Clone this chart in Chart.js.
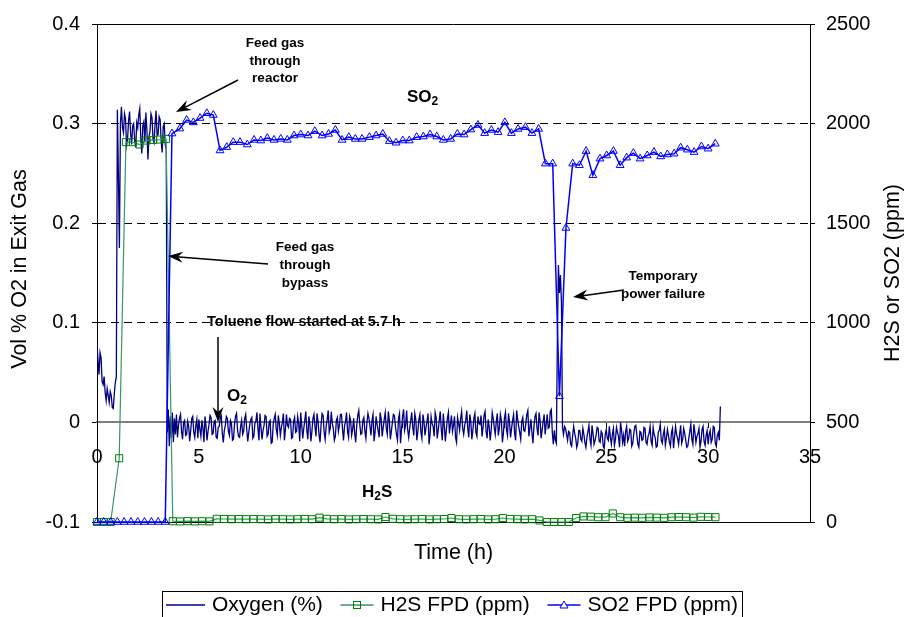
<!DOCTYPE html>
<html>
<head>
<meta charset="utf-8">
<script src="https://cdn.jsdelivr.net/npm/chart.js@4.4.1/dist/chart.umd.min.js"></script>
<style>
  html, body { margin: 0; padding: 0; background: #fff; }
  #wrap { width: 907px; height: 617px; position: relative; overflow: hidden; }
</style>
</head>
<body>
<div id="wrap"><canvas id="chart" width="907" height="617"></canvas></div>
<script>
// ======================
// DATA
// ======================

// oxygen logger: one reading every 0.05 h starting at 0 h
const o2Start = 0;
const o2Step = 0.05;
const o2Values = [
  // 0 h
  0.079, 0.062, 0.048, 0.070, 0.065, 0.041, 0.038, 0.046, 0.030, 0.022,
  0.034, 0.027, 0.020, 0.031, 0.027, 0.015, 0.014, 0.029, 0.040, 0.046,
  // 1 h
  0.314, 0.250, 0.175, 0.300, 0.317, 0.296, 0.291, 0.310, 0.305, 0.278,
  0.284, 0.303, 0.312, 0.290, 0.279, 0.298, 0.300, 0.283, 0.276, 0.301,
  // 2 h
  0.296, 0.309, 0.315, 0.285, 0.270, 0.298, 0.302, 0.281, 0.311, 0.293,
  0.264, 0.287, 0.292, 0.310, 0.306, 0.284, 0.281, 0.299, 0.313, 0.288,
  // 3 h
  0.289, 0.307, 0.304, 0.282, 0.271, 0.297, 0.300, 0.279, 0.274, -0.010,
  0.013, -0.024, 0.006, -0.016, 0.010, -0.020, 0.004, -0.012, 0.008, -0.015,
  // 4 h
  -0.003, 0.004, 0.008, -0.009, -0.017, 0.000, 0.002, -0.013, -0.012, 0.001,
  -0.004, -0.019, -0.008, 0.004, 0.006, -0.010, -0.015, -0.003, 0.003, -0.016,
  // 5 h
  0.003, -0.007, -0.014, 0.002, -0.006, -0.020, 0.006, -0.004, -0.018, -0.009,
  -0.002, 0.007, 0.005, -0.012, -0.011, 0.001, 0.002, -0.015, -0.016, -0.005,
  // 6 h
  -0.004, 0.005, 0.007, -0.011, -0.020, -0.008, -0.003, 0.006, 0.004, -0.009,
  -0.013, 0.002, -0.001, -0.018, -0.017, -0.002, 0.006, 0.009, -0.008, -0.014,
  // 7 h
  -0.015, -0.004, 0.002, -0.012, -0.009, 0.004, 0.008, -0.007, -0.019, -0.010,
  -0.002, 0.003, 0.005, -0.016, -0.014, -0.001, 0.001, 0.010, -0.006, -0.018,
  // 8 h
  0.009, -0.005, -0.017, -0.008, -0.003, 0.007, 0.006, -0.014, -0.012, 0.000,
  0.002, -0.021, -0.020, -0.002, 0.004, 0.008, -0.007, -0.013, 0.007, -0.001,
  // 9 h
  -0.013, -0.005, 0.000, 0.009, -0.018, -0.007, 0.008, -0.003, -0.005, 0.004,
  0.003, -0.016, -0.015, 0.001, 0.005, -0.010, -0.009, 0.006, -0.001, -0.019,
  // 10 h
  0.010, -0.003, -0.016, -0.006, 0.002, 0.011, -0.008, -0.017, 0.006, -0.002,
  -0.019, -0.009, 0.004, 0.008, -0.004, -0.014, 0.009, 0.001, -0.012, -0.020,
  // 11 h
  -0.002, 0.009, 0.007, -0.010, -0.017, -0.004, 0.003, 0.012, -0.010, -0.006,
  0.011, -0.001, -0.006, -0.018, -0.014, 0.002, 0.005, -0.009, -0.003, 0.008,
  // 12 h
  0.008, -0.006, -0.018, -0.004, 0.001, 0.010, -0.009, -0.015, 0.006, 0.002,
  -0.013, -0.007, 0.004, -0.011, -0.020, -0.003, 0.007, 0.012, -0.002, -0.012,
  // 13 h
  -0.011, 0.002, 0.005, -0.009, -0.016, 0.000, 0.009, 0.004, -0.004, -0.013,
  0.002, 0.008, -0.019, -0.010, 0.006, -0.002, -0.008, -0.015, 0.010, 0.003,
  // 14 h
  -0.014, -0.005, 0.003, 0.010, -0.006, -0.012, 0.011, 0.002, -0.017, -0.009,
  0.000, 0.008, 0.007, -0.004, -0.012, -0.018, 0.004, 0.009, -0.021, -0.007,
  // 15 h
  0.006, 0.013, -0.008, -0.003, 0.012, -0.007, -0.015, -0.006, 0.002, 0.010,
  -0.005, -0.013, 0.009, 0.003, -0.018, -0.009, 0.003, 0.008, -0.010, -0.016,
  // 16 h
  0.008, 0.001, -0.013, -0.005, 0.001, 0.009, -0.022, -0.012, 0.006, -0.001,
  -0.004, -0.014, 0.010, 0.005, -0.016, -0.008, 0.002, 0.011, -0.007, -0.018,
  // 17 h
  0.009, -0.004, -0.019, -0.007, 0.004, 0.010, -0.011, -0.002, 0.007, -0.009,
  -0.003, 0.006, -0.015, -0.020, 0.005, -0.001, -0.008, 0.004, 0.011, -0.006,
  // 18 h
  -0.012, -0.003, 0.002, 0.012, -0.006, -0.015, 0.008, 0.001, -0.017, -0.008,
  0.004, 0.009, -0.010, -0.014, 0.006, -0.001, -0.002, 0.007, -0.014, -0.005,
  // 19 h
  0.007, 0.011, -0.009, -0.016, 0.003, -0.004, -0.018, -0.008, 0.010, 0.004,
  -0.005, -0.012, 0.001, 0.009, -0.013, -0.006, 0.008, 0.002, -0.020, -0.011,
  // 20 h
  0.004, 0.010, -0.007, -0.013, 0.009, 0.000, -0.015, -0.006, 0.002, 0.008,
  -0.011, -0.018, 0.012, 0.003, -0.004, -0.010, -0.017, 0.001, 0.005, -0.008,
  // 21 h
  -0.009, -0.001, 0.008, 0.012, -0.014, -0.006, 0.003, -0.010, -0.021, -0.004,
  0.006, 0.009, -0.006, -0.013, 0.010, 0.002, -0.016, -0.008, 0.001, 0.008,
  // 22 h (power failure)
  -0.012, -0.002, 0.008, -0.006, -0.005, 0.011, 0.013, -0.010, -0.022, -0.008,
  -0.018, -0.021, 0.085, 0.158, 0.130, 0.148, 0.120, -0.005, -0.012, -0.004,
  // 23 h
  -0.006, -0.012, -0.018, -0.009, -0.010, -0.022, -0.024, -0.013, -0.004, -0.011,
  -0.016, -0.025, -0.021, -0.008, -0.008, -0.017, -0.019, -0.006, -0.012, -0.020,
  // 24 h
  -0.025, -0.015, -0.009, -0.003, -0.017, -0.023, -0.003, -0.011, -0.022, -0.018,
  -0.013, -0.005, -0.006, -0.019, -0.020, -0.009, -0.011, -0.024, -0.026, -0.012,
  // 25 h
  -0.007, -0.016, -0.018, -0.004, -0.015, -0.022, -0.012, -0.006, -0.023, -0.017,
  -0.005, -0.010, -0.014, -0.025, 0.000, -0.008, -0.020, -0.013, -0.024, -0.009,
  // 26 h
  -0.004, -0.019, -0.016, -0.007, -0.008, -0.024, -0.021, -0.011, -0.004, -0.003,
  -0.013, -0.022, -0.025, -0.009, -0.010, -0.018, -0.017, -0.005, -0.006, -0.020,
  // 27 h
  -0.022, -0.014, -0.011, -0.004, -0.019, -0.023, -0.005, -0.012, -0.015, -0.025,
  -0.024, -0.010, -0.008, -0.002, -0.018, -0.021, -0.012, -0.007, -0.023, -0.016,
  // 28 h
  -0.007, -0.013, -0.020, -0.024, -0.010, -0.006, -0.026, -0.015, -0.004, -0.012,
  -0.016, -0.022, -0.012, -0.003, -0.021, -0.017, -0.006, -0.011, -0.018, -0.025,
  // 29 h
  -0.024, -0.016, -0.009, -0.002, -0.017, -0.022, -0.002, -0.010, -0.020, -0.014,
  -0.011, -0.006, -0.025, -0.019, -0.007, -0.004, -0.019, -0.023, -0.013, -0.008,
  // 30 h
  -0.022, -0.012, -0.008, -0.020, -0.017, -0.004, -0.005, -0.021, -0.024, -0.013,
  -0.010, -0.018, 0.016
];

const h2sTime = [
  0, 0.33, 0.67, 1.09, 1.42, 1.76, 2.09, 2.43, 2.76, 3.09, 3.39,
  3.72, 4.08, 4.44, 4.80, 5.16, 5.52, 5.88, 6.24, 6.60, 6.96,
  7.32, 7.68, 8.04, 8.40, 8.76, 9.12, 9.48, 9.84, 10.20, 10.56,
  10.92, 11.28, 11.64, 12.00, 12.36, 12.72, 13.08, 13.44, 13.80, 14.16,
  14.52, 14.88, 15.24, 15.60, 15.96, 16.32, 16.68, 17.04, 17.40, 17.76,
  18.12, 18.48, 18.84, 19.20, 19.56, 19.92, 20.28, 20.64, 21.00, 21.36,
  21.72, 22.08, 22.44, 22.80, 23.16, 23.52, 23.88, 24.24, 24.60, 24.96,
  25.32, 25.68, 26.04, 26.40, 26.76, 27.12, 27.48, 27.84, 28.20, 28.56,
  28.92, 29.28, 29.64, 30.00, 30.36
];
const h2sPpm = [
  0, 0, 0, 320, 1907, 1907, 1895, 1915, 1918, 1920, 1923,
  4, 3, 4, 3, 4, 3, 16, 15, 14, 15,
  14, 15, 14, 13, 15, 14, 13, 14, 15, 14,
  22, 16, 14, 15, 13, 14, 15, 14, 13, 25,
  16, 14, 13, 14, 15, 13, 14, 15, 20, 14,
  13, 14, 15, 13, 14, 20, 15, 14, 13, 14,
  8, 0, 0, 0, 0, 20, 28, 27, 24, 24,
  43, 24, 21, 22, 21, 23, 22, 21, 24, 25,
  24, 22, 26, 25, 24
];

const so2Time = [
  0, 0.33, 0.67, 1.0, 1.33, 1.67, 2.0, 2.33, 2.67, 3.0, 3.35,
  3.68, 4.07, 4.40, 4.73, 5.06, 5.39, 5.71,
  6.04, 6.37, 6.69, 7.02, 7.38, 7.71, 8.04, 8.36, 8.69, 9.02,
  9.34, 9.67, 10.0, 10.36, 10.69, 11.05, 11.37, 11.70, 12.03, 12.36,
  12.68, 13.01, 13.37, 13.70, 14.03, 14.35, 14.68, 15.01, 15.33, 15.69,
  16.02, 16.35, 16.68, 17.0, 17.36, 17.69, 18.02, 18.35, 18.70, 19.03,
  19.36, 19.69, 20.02, 20.34, 20.67, 21.03, 21.35, 21.68, 22.01, 22.37,
  22.70, 23.02, 23.35, 23.68, 24.01, 24.34, 24.69, 25.02, 25.35, 25.68,
  26.0, 26.33, 26.66, 27.01, 27.34, 27.67, 28.0, 28.33, 28.65, 28.98,
  29.31, 29.67, 30.0, 30.35
];
const so2Ppm = [
  0, 0, 0, 0, 0, 0, 0, 0, 0, 0, 0,
  1950, 1975, 2018, 2006, 2028, 2052, 2043,
  1865, 1882, 1907, 1907, 1895, 1918, 1915, 1927, 1918, 1923,
  1918, 1940, 1945, 1940, 1962, 1940, 1948, 1968, 1918, 1932,
  1923, 1923, 1932, 1940, 1948, 1912, 1904, 1915, 1915, 1932,
  1935, 1945, 1935, 1918, 1923, 1948, 1945, 1970, 1993, 1952,
  1968, 1957, 2006, 1952, 1973, 1982, 1952, 1973, 1799, 1799,
  631, 1476, 1799, 1791, 1862, 1741, 1824, 1840, 1862, 1791,
  1829, 1852, 1824, 1840, 1857, 1835, 1845, 1849, 1879, 1869,
  1857, 1885, 1874, 1899
];

const seriesNames = ["Oxygen (%)", "H2S FPD (ppm)", "SO2 FPD (ppm)"];

// ======================
// BUILD POINTS
// ======================
const FONT = "Arial, 'Liberation Sans', sans-serif";
const O2_COLOR = "#000080";
const H2S_LINE = "#339966";
const H2S_MARK = "#008000";
const SO2_COLOR = "#0000ff";

const o2Points = o2Values.map((v, i) => ({ x: o2Start + i * o2Step, y: v }));
const h2sPoints = h2sTime.map((t, i) => ({ x: t, y: h2sPpm[i] }));
const so2Points = so2Time.map((t, i) => ({ x: t, y: so2Ppm[i] }));

// ======================
// DRAW HELPERS
// ======================
function arrow(ctx, x1, y1, x2, y2) {
  const ang = Math.atan2(y2 - y1, x2 - x1);
  const len = 15, half = 5.5;
  ctx.beginPath();
  ctx.moveTo(x1, y1);
  ctx.lineTo(x2 - Math.cos(ang) * 8, y2 - Math.sin(ang) * 8);
  ctx.stroke();
  ctx.save();
  ctx.translate(x2, y2);
  ctx.rotate(ang);
  ctx.beginPath();
  ctx.moveTo(0, 0);
  ctx.lineTo(-len, -half);
  ctx.lineTo(-len + 5, 0);
  ctx.lineTo(-len, half);
  ctx.closePath();
  ctx.fill();
  ctx.restore();
}

function subText(ctx, parts, x, y, big, small) {
  // parts: [text, isSub]
  let cx = x;
  parts.forEach(p => {
    ctx.font = "bold " + (p[1] ? small : big) + "px " + FONT;
    ctx.fillText(p[0], cx, y + (p[1] ? 5 : 0));
    cx += ctx.measureText(p[0]).width;
  });
}

function drawLegend(ctx) {
  const left = 162, right = 742, top = 591, ly = 605;
  ctx.lineWidth = 1;
  ctx.strokeStyle = "#000";
  ctx.strokeRect(left + 0.5, top + 0.5, right - left, 40);
  ctx.font = "21px " + FONT;
  ctx.textAlign = "left";
  ctx.textBaseline = "middle";
  const lens = [39, 33, 33];
  const widths = seriesNames.map(s => ctx.measureText(s).width);
  const used = lens[0] + lens[1] + lens[2] + widths[0] + widths[1] + widths[2] + 3 * 7;
  const gap = (right - left - 8 - used) / 2;
  let x = left + 4;
  const styles = [
    { color: O2_COLOR, mark: null },
    { color: H2S_LINE, mark: "rect" },
    { color: SO2_COLOR, mark: "tri" }
  ];
  styles.forEach((st, i) => {
    const x2 = x + lens[i];
    const mx = (x + x2) / 2;
    ctx.lineWidth = 1.5;
    ctx.strokeStyle = st.color;
    ctx.beginPath(); ctx.moveTo(x, ly); ctx.lineTo(x2, ly); ctx.stroke();
    ctx.lineWidth = 1;
    if (st.mark === "rect") {
      ctx.strokeStyle = H2S_MARK;
      ctx.strokeRect(Math.round(mx) - 3.5, ly - 3.5, 7, 7);
    } else if (st.mark === "tri") {
      ctx.beginPath();
      ctx.moveTo(mx, ly - 4); ctx.lineTo(mx + 4, ly + 3); ctx.lineTo(mx - 4, ly + 3); ctx.closePath();
      ctx.fillStyle = "#fff"; ctx.fill(); ctx.stroke();
    }
    ctx.fillStyle = "#000";
    ctx.fillText(seriesNames[i], x2 + 7, ly);
    x = x2 + 7 + widths[i] + gap;
  });
}

const frame = {
  id: "frame",
  beforeDatasetsDraw(chart) {
    const { ctx, chartArea: a } = chart;
    ctx.save();
    ctx.strokeStyle = "#000";
    ctx.lineWidth = 1;
    ctx.beginPath();
    ctx.moveTo(a.left, Math.round(a.top) + 0.5);
    ctx.lineTo(a.right, Math.round(a.top) + 0.5);
    ctx.moveTo(a.left, Math.round(a.bottom) + 0.5);
    ctx.lineTo(a.right, Math.round(a.bottom) + 0.5);
    ctx.stroke();
    ctx.restore();
  },
  afterDraw(chart) {
    const { ctx, chartArea: a } = chart;
    const midY = (a.top + a.bottom) / 2;
    ctx.save();
    ctx.fillStyle = "#000";
    ctx.strokeStyle = "#000";

    // axis titles
    ctx.font = "21.5px " + FONT;
    ctx.textAlign = "center";
    ctx.textBaseline = "middle";
    ctx.fillText("Time (h)", (a.left + a.right) / 2, 553);
    ctx.save();
    ctx.translate(20, midY - 4);
    ctx.rotate(-Math.PI / 2);
    ctx.fillText("Vol % O2 in Exit Gas", 0, 0);
    ctx.restore();
    ctx.save();
    ctx.translate(893, midY);
    ctx.rotate(-Math.PI / 2);
    ctx.fillText("H2S or SO2 (ppm)", 0, 0);
    ctx.restore();

    // notes
    ctx.font = "bold 13.5px " + FONT;
    [["Feed gas", 43], ["through", 61], ["reactor", 78]].forEach(l => ctx.fillText(l[0], 275, l[1]));
    [["Feed gas", 247], ["through", 265], ["bypass", 283]].forEach(l => ctx.fillText(l[0], 305, l[1]));
    [["Temporary", 276], ["power failure", 294]].forEach(l => ctx.fillText(l[0], 663, l[1]));
    ctx.textAlign = "left";
    ctx.font = "bold 14.5px " + FONT;
    ctx.fillText("Toluene flow started at 5.7 h", 207, 322);

    subText(ctx, [["SO", false], ["2", true]], 407, 97, 17, 12);
    subText(ctx, [["O", false], ["2", true]], 227, 396, 17, 12);
    subText(ctx, [["H", false], ["2", true], ["S", false]], 362, 492, 17, 12);

    ctx.lineWidth = 1.5;
    arrow(ctx, 238, 80, 176, 112);
    arrow(ctx, 268, 264, 168, 256);
    arrow(ctx, 624, 290, 573, 297);
    arrow(ctx, 218, 337, 218, 422);

    drawLegend(ctx);
    ctx.restore();
  }
};

// ======================
// CHART
// ======================
new Chart(document.getElementById("chart"), {
  type: "line",
  data: {
    datasets: [
      {
        label: seriesNames[0], data: o2Points, yAxisID: "y", order: 2,
        borderColor: O2_COLOR, borderWidth: 1.3, pointRadius: 0, tension: 0
      },
      {
        label: seriesNames[1], data: h2sPoints, yAxisID: "y2", order: 1, clip: false,
        borderColor: H2S_LINE, borderWidth: 1.2, pointStyle: "rect", pointRadius: 5,
        pointBorderColor: H2S_MARK, pointBackgroundColor: "rgba(0,0,0,0)", pointBorderWidth: 1
      },
      {
        label: seriesNames[2], data: so2Points, yAxisID: "y2", order: 0, clip: false,
        borderColor: SO2_COLOR, borderWidth: 1.5, pointStyle: "triangle", pointRadius: 4.5,
        pointBorderColor: SO2_COLOR, pointBackgroundColor: "rgba(0,0,0,0)", pointBorderWidth: 1
      }
    ]
  },
  options: {
    responsive: false,
    animation: false,
    devicePixelRatio: 1,
    layout: { padding: { left: 0, right: 0, top: 19, bottom: 95 } },
    plugins: { legend: { display: false }, tooltip: { enabled: false } },
    scales: {
      x: {
        type: "linear", min: 0, max: 35,
        position: { y: 0 },
        ticks: { stepSize: 5, color: "#000", font: { size: 20, family: FONT }, padding: 18 },
        grid: { drawOnChartArea: false, tickLength: 5, tickColor: "#000" },
        border: { color: "#808080", width: 2 }
      },
      y: {
        position: "left", min: -0.1, max: 0.4,
        ticks: {
          stepSize: 0.1, color: "#000", font: { size: 20, family: FONT }, padding: 12,
          callback: v => String(Math.round(v * 10) / 10)
        },
        grid: {
          color: c => (c.tick && c.tick.value > 0.05 && c.tick.value < 0.35) ? "#000" : "rgba(0,0,0,0)",
          tickColor: "#000", tickLength: 5
        },
        border: { color: "#000", width: 1, dash: [8, 5] },
        afterFit: s => { s.width = 97; }
      },
      y2: {
        position: "right", min: 0, max: 2500,
        ticks: {
          stepSize: 500, color: "#000", font: { size: 20, family: FONT }, padding: 11,
          callback: v => String(v)
        },
        grid: { drawOnChartArea: false, tickColor: "#000", tickLength: 5 },
        border: { color: "#000", width: 1 },
        afterFit: s => { s.width = 97; }
      }
    }
  },
  plugins: [frame]
});
</script>
</body>
</html>
